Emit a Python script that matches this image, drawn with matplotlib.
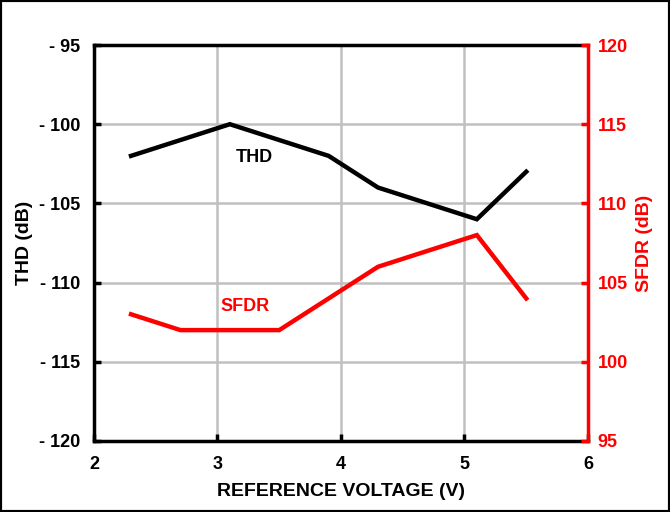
import matplotlib.pyplot as plt
from matplotlib.patches import Rectangle

plt.rcParams['font.family'] = ['Liberation Sans', 'DejaVu Sans']
plt.rcParams['font.weight'] = 'bold'

# data
thd_v = [2.3, 3.1, 3.9, 4.3, 5.1, 5.5]
thd_db = [-102, -100, -102, -104, -106, -103]
sfdr_v = [2.3, 2.7, 3.5, 4.3, 5.1, 5.5]
sfdr_db = [103, 102, 102, 106, 108, 104]

x_ticks = [2, 3, 4, 5, 6]
thd_ticks = [-120, -115, -110, -105, -100, -95]
sfdr_ticks = [95, 100, 105, 110, 115, 120]

fig = plt.figure(figsize=(6.7, 5.12), dpi=100)
ax = fig.add_axes([0.1403, 0.1387, 0.7373, 0.7734])
ax2 = ax.twinx()

ax.plot(thd_v, thd_db, color='black', lw=3.2, solid_joinstyle='miter', zorder=3)
ax2.plot(sfdr_v, sfdr_db, color='#ff0000', lw=3.2, solid_joinstyle='miter', zorder=3)

ax.set_xlim(2, 6)
ax.set_ylim(-120, -95)
ax2.set_ylim(95, 120)
ax.set_xticks(x_ticks)
ax.set_yticks(thd_ticks)
ax2.set_yticks(sfdr_ticks)
ax.set_yticklabels(['- %d' % abs(t) for t in thd_ticks])
ax.grid(True, color='#c0c0c0', lw=1.8, zorder=0)

ax.tick_params(axis='both', direction='in', length=5, width=2.5, labelsize=13)
ax.tick_params(axis='x', pad=11)
ax.tick_params(axis='y', pad=10)
ax2.tick_params(axis='y', direction='in', length=5, width=2.5, colors='#ff0000',
                labelsize=13, pad=7)
for lbl in ax.get_xticklabels() + ax.get_yticklabels() + ax2.get_yticklabels():
    lbl.set_fontweight('bold')

for s in ['top', 'bottom', 'left']:
    ax.spines[s].set_linewidth(2.5)
ax2.spines['right'].set_color('#ff0000')
ax2.spines['right'].set_linewidth(2.5)
for s in ['top', 'bottom', 'left']:
    ax2.spines[s].set_visible(False)

ax.set_xlabel('REFERENCE VOLTAGE (V)', fontsize=14, fontweight='bold', labelpad=7)
ax.set_ylabel('THD (dB)', fontsize=14, fontweight='bold')
ax2.set_ylabel('SFDR (dB)', fontsize=14, fontweight='bold', color='#ff0000')
ax.yaxis.set_label_coords(-0.123, 0.5)
ax2.yaxis.set_label_coords(1.098, 0.5)

ax.text(3.3, -102.1, 'THD', fontsize=13, fontweight='bold', ha='center', va='center')
ax.text(3.22, -111.5, 'SFDR', fontsize=13, fontweight='bold', color='#ff0000',
        ha='center', va='center')

fig.patches.append(Rectangle((0, 0), 1, 1, transform=fig.transFigure, fill=False,
                             edgecolor='black', lw=3, zorder=10))

fig.savefig('out.png', dpi=100)
